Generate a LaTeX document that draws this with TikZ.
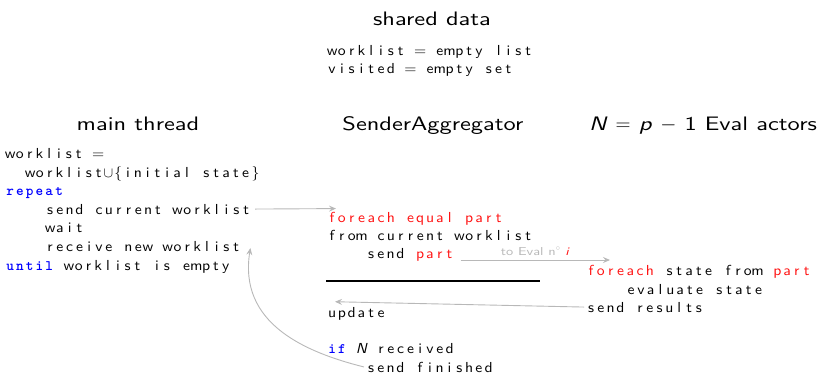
\documentclass[tikz,border=0pt]{standalone}
\usepackage{fontspec}
\usetikzlibrary{arrows.meta,calc}
\newfontfamily\csans{lmsans10-regular.otf}[FakeStretch=1.25, ItalicFont=lmsans10-oblique.otf, BoldFont=lmsans10-bold.otf]
\newfontfamily\ccode{lmsans10-regular.otf}[FakeStretch=1.08, ItalicFont=lmsans10-oblique.otf, BoldFont=lmsans10-bold.otf]
\definecolor{arrgray}{HTML}{B8B8B8}
\definecolor{kwblue}{HTML}{0000FF}
\definecolor{codered}{HTML}{FF1010}
\newlength\cw \setlength\cw{9.8pt}
\ExplSyntaxOn
\NewDocumentCommand\fcol{m}{\str_map_inline:nn{#1}{\makebox[\cw][c]{##1}}}
\ExplSyntaxOff
\newcommand\kw[1]{{\color{kwblue}\ttfamily\bfseries\fcol{#1}}}
\newcommand\rd[1]{{\color{codered}\fcol{#1}}}
\newcommand\gap{\hspace{\cw}}
\tikzset{
  code/.style={font=\fontsize{14.5}{16}\selectfont\ccode, inner sep=0pt, anchor=base west},
  title/.style={font=\fontsize{19.5}{23}\selectfont\csans, inner sep=0pt, anchor=base},
  flow/.style={draw=arrgray, line width=0.9pt, -{Stealth[length=7pt,width=6pt,inset=2.5pt]}},
  sep/.style={line width=2.8pt, black},
}
\begin{document}
\begin{tikzpicture}[x=1pt,y=-1pt]
\useasboundingbox (0,0) rectangle (821,376);
% titles
\node[title] (tshared) at (432,25) {shared data};
\node[title] (tmain) at (138,130) {main thread};
\node[title] (tsender) at (433,130) {SenderAggregator};
\node[title] (teval) at (703,130) {\textit{N} $=$ \textit{p} $-$ 1 Eval actors};
% shared data
\node[code] (d1) at (327,55) {\fcol{worklist = empty list}};
\node[code] (d2) at (327,73) {\fcol{visited = empty set}};
% main thread
\node[code] (m1) at (5,158) {\fcol{worklist =}};
\node[code] (m2) at (25,177) {\fcol{worklist}\makebox[\cw]{$\cup$}\fcol{{initial state}}};
\node[code] (m3) at (5,195) {\kw{repeat}};
\node[code] (m4) at (45,214) {\fcol{send current worklist}};
\node[code] (m5) at (45,232) {\fcol{wait}};
\node[code] (m6) at (45,251) {\fcol{receive new worklist}};
\node[code] (m7) at (5,270) {\kw{until}\gap\fcol{worklist is empty}};
% sender aggregator
\node[code] (s1) at (327,222) {\rd{foreach equal part}};
\node[code] (s2) at (327,240) {\fcol{from current worklist}};
\node[code] (s3) at (366,258) {\fcol{send}\gap\rd{part}};
\coordinate (sepl) at (326,281);
\coordinate (sepr) at (540,281);
\draw[sep] (sepl) -- (sepr);
\node[code] (s4) at (327,317) {\fcol{update}};
\node[code] (s5) at (327,353) {\kw{if}\gap\makebox[\cw]{\itshape N}\gap\fcol{received}};
\node[code] (s6) at (366,372) {\fcol{send finished}};
% eval actors
\node[code] (e1) at (586,275) {\rd{foreach}\gap\fcol{state from}\gap\rd{part}};
\node[code] (e2) at (626,294) {\fcol{evaluate state}};
\node[code] (e3) at (586,312) {\fcol{send results}};
% connectors
\coordinate (a2s) at ([shift={(6,2)}]s3.base east);
\coordinate (a2e) at ([shift={(24,-5)}]e1.north west);
\draw[flow] ([xshift=4pt]m4.east) -- ([shift={(9,-3)}]s1.north west);
\draw[flow] (a2s) -- node[pos=0.5, anchor=base, yshift=5pt, inner sep=0pt,
  font=\fontsize{11.5}{13}\selectfont\csans, text=arrgray] (lbl) {to Eval n$^\circ$ \textcolor{codered}{\textit{i}}}
  (a2e |- a2s);
\draw[flow] ([xshift=-2pt]e3.west) -- ([shift={(8,-5)}]s4.north west);
\draw[flow] ([xshift=-2pt]s6.west) .. controls +(-60,-15) and +(-12,75) .. ([shift={(9,-3)}]m6.base east);
\end{tikzpicture}
\end{document}
